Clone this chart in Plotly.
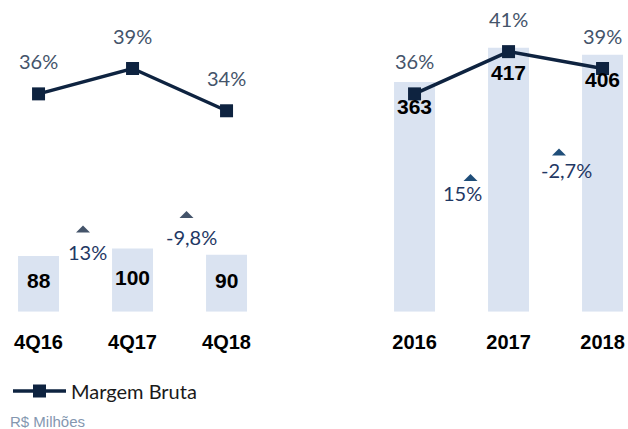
import plotly.graph_objects as go

W, H = 628, 429

# ---------------- data ----------------
q_categories = ["4Q16", "4Q17", "4Q18"]
q_values = [88, 100, 90]
q_margin = [36, 39, 34]
q_growth = ["13%", "-9,8%"]

y_categories = ["2016", "2017", "2018"]
y_values = [363, 417, 406]
y_margin = [36, 41, 39]
y_growth = ["15%", "-2,7%"]

series_name = "Margem Bruta"
unit_note = "R$ Milhões"

# ---------------- styles ----------------
BAR = "#DAE3F1"
LINE = "#0E2340"
PCT = "#44546A"
GROWTH = "#1F3864"
TRI_L = "#44546A"
TRI_R = "#1F4E79"
PCTFONT = "Lato"
BOLD = "Liberation Sans"

base_px = 311.7           # bar baseline (px from top)
step = 94.0               # px per category
bar_scale = 0.633         # px per unit (R$)
y_top_val = base_px / bar_scale
line_lo, line_hi = 10.22, 47.11

def px2py(py):
    return 1 - py / H

dom_y = [px2py(base_px), 1]
left_dom = [0, 282 / W]
right_dom = [376 / W, 1]
left_range = [-0.41, -0.41 + 282 / step]
right_range = [-0.41, -0.41 + (W - 376) / step]

fig = go.Figure()

tickfont = dict(family=BOLD, size=20, color="#000000", weight="bold")

def add_panel(cats, vals, margins, xa, ya_bar, ya_line, show_leg):
    fig.add_trace(go.Bar(x=cats, y=vals, marker=dict(color=BAR, line=dict(width=0)),
                         width=0.436, xaxis=xa, yaxis=ya_bar, showlegend=False,
                         hoverinfo="skip"))
    fig.add_trace(go.Scatter(x=cats, y=margins, mode="lines+markers", name=series_name,
                             line=dict(color=LINE, width=3.5),
                             marker=dict(symbol="square", size=13, color=LINE),
                             xaxis=xa, yaxis=ya_line, showlegend=show_leg))

add_panel(q_categories, q_values, q_margin, "x", "y", "y2", True)
add_panel(y_categories, y_values, y_margin, "x2", "y3", "y4", False)

ann = []
# margin % labels (x given as category index)
for cats, margins, xr, yr in [(q_categories, q_margin, "x", "y2"), (y_categories, y_margin, "x2", "y4")]:
    for i, m in enumerate(margins):
        ann.append(dict(x=i, y=m, xref=xr, yref=yr, text=f"{m}%", showarrow=False,
                        yshift=33, font=dict(family=PCTFONT, size=20, color=PCT)))
# bar value labels
for i, v in enumerate(q_values):
    ann.append(dict(x=i, y=v / 2, xref="x", yref="y", text=f"<b>{v}</b>", showarrow=False,
                    yshift=3, font=dict(family=BOLD, size=21, color="#000000")))
for i, v in enumerate(y_values):
    ann.append(dict(x=i, y=v, xref="x2", yref="y3", text=f"<b>{v}</b>", showarrow=False,
                    yshift=-25, font=dict(family=BOLD, size=21, color="#000000")))

# growth labels (between categories)
growth_pos = [
    ("x", q_growth[0], 0.5, 251.7, 1.5, 229, TRI_L, 83),
    ("x", q_growth[1], 1.5, 237, 11.5, 214.5, TRI_L, 186.5),
    ("x2", y_growth[0], 0.5, 193, 1, 177.5, TRI_R, 470.5),
    ("x2", y_growth[1], 1.5, 170, 10.5, 152, TRI_R, 559),
]
shapes = []
for xr, txt, xi, ty, xs, tri_y, tri_c, tri_x in growth_pos:
    ann.append(dict(x=xi, y=px2py(ty), xref=xr, yref="paper", text=txt, showarrow=False,
                    xshift=xs, font=dict(family=PCTFONT, size=20, color=GROWTH)))
    x0, x1 = (tri_x - 7) / W, (tri_x + 7) / W
    y0, y1 = px2py(tri_y + 3.5), px2py(tri_y - 3.5)
    xm = tri_x / W
    shapes.append(dict(type="path", xref="paper", yref="paper",
                       path=f"M {x0} {y0} L {x1} {y0} L {xm} {y1} Z",
                       fillcolor=tri_c, line=dict(width=0)))

ann.append(dict(x=8 / W, y=px2py(421), xref="paper", yref="paper", text=unit_note,
                showarrow=False, xanchor="left", yanchor="middle",
                font=dict(family="Liberation Sans", size=15, color="#8497B0")))

xcommon = dict(type="category", showgrid=False, zeroline=False, showline=False,
               ticks="outside", ticklen=12, tickcolor="rgba(0,0,0,0)", tickfont=tickfont)
ycommon = dict(showgrid=False, zeroline=False, showline=False, showticklabels=False,
               domain=dom_y)

fig.update_layout(
    width=W, height=H, margin=dict(l=0, r=0, t=0, b=0),
    paper_bgcolor="white", plot_bgcolor="rgba(0,0,0,0)",
    barmode="overlay",
    xaxis=dict(xcommon, domain=left_dom, range=left_range, anchor="y"),
    xaxis2=dict(xcommon, domain=right_dom, range=right_range, anchor="y3"),
    yaxis=dict(ycommon, range=[0, y_top_val], anchor="x"),
    yaxis2=dict(ycommon, range=[line_lo, line_hi], overlaying="y", anchor="x"),
    yaxis3=dict(ycommon, range=[0, y_top_val], anchor="x2"),
    yaxis4=dict(ycommon, range=[line_lo, line_hi], overlaying="y3", anchor="x2"),
    annotations=ann, shapes=shapes,
    showlegend=True,
    legend=dict(x=8 / W, y=px2py(391), xanchor="left", yanchor="middle", orientation="h",
                font=dict(family=PCTFONT, size=20, color="#1a1a1a"),
                bgcolor="rgba(0,0,0,0)", itemwidth=53),
)

fig.write_html("out.html", config={"displayModeBar": False},
               post_script="document.body.style.margin='0';")
